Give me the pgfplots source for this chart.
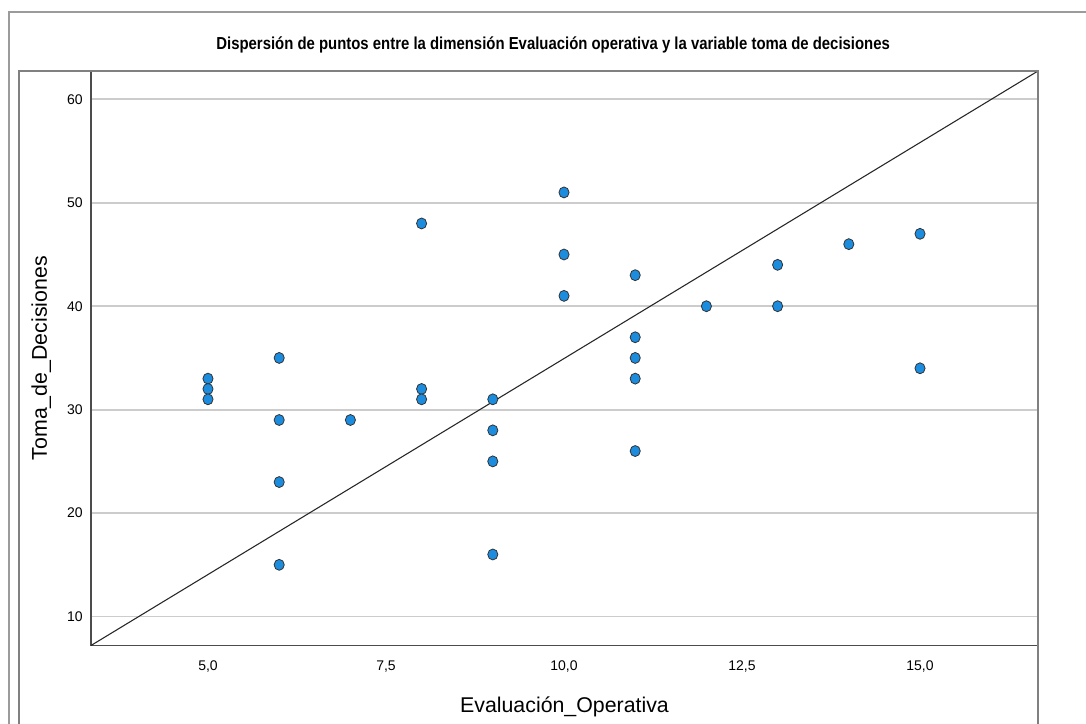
\documentclass[border=0pt]{standalone}
\usepackage{pgfplots}
\pgfplotsset{compat=1.18}
\usepackage{fontspec}
\setmainfont{Liberation Sans}
\definecolor{ptblue}{RGB}{28,140,222}
\definecolor{framegray}{RGB}{128,128,128}
\definecolor{outergray}{RGB}{155,155,155}
\begin{document}
\begin{tikzpicture}[x=0.75pt,y=0.75pt]
\useasboundingbox (0,0) rectangle (1086,724);
\fill[white] (0,0) rectangle (1086,724);
\draw[outergray, line width=1.2pt] (9,-5) -- (9,712) -- (1090,712);
\begin{axis}[
  at={(68.25pt,58.875pt)}, anchor=south west,
  scale only axis, width=710.25pt, height=430.875pt,
  xmin=3.357, xmax=16.657, ymin=7.2, ymax=62.74,
  xtick={5,7.5,10,12.5,15},
  xticklabels={{5,0},{7,5},{10,0},{12,5},{15,0}},
  ytick={10,20,30,40,50,60},
  major tick length=0pt,
  ymajorgrids, grid style={color=black!20, line width=1.3pt},
  axis line style={draw=black!70, line width=0.8pt},
  tick label style={font=\fontsize{10.5}{12}\selectfont},
  /pgf/number format/assume math mode=true,
  yticklabel style={inner sep=0pt, xshift=-6pt},
  xticklabel style={inner sep=0pt, yshift=-11pt},
  xlabel={Evaluación\_Operativa}, ylabel={Toma\_de\_Decisiones},
  label style={font=\fontsize{16}{19}\selectfont},
  xlabel style={at={(axis description cs:0.5,-0.1175)}, anchor=base},
  ylabel style={at={(axis description cs:-0.0465,0.5)}, anchor=base},
  title={\scalebox{0.86}[1]{Dispersión de puntos entre la dimensión Evaluación operativa y la variable toma de decisiones}},
  title style={at={(axis description cs:0.488,1.0227)}, anchor=base, font=\bfseries\fontsize{13}{15}\selectfont, inner sep=0pt},
]
\addplot[black!85, line width=0.8pt] coordinates {(3.357,7.2) (16.657,62.74)};
\addplot[only marks, mark=*, mark size=3.8pt, mark options={fill=ptblue, draw=black!80, line width=0.6pt, yscale=1.08}] table {
x y
5 33
5 32
5 31
6 35
6 29
6 23
6 15
7 29
8 48
8 32
8 31
9 31
9 28
9 25
9 16
10 51
10 45
10 41
11 43
11 37
11 35
11 33
11 26
12 40
13 44
13 40
14 46
15 47
15 34
};
\end{axis}
\draw[framegray, line width=1.8pt] (19,-5) -- (19,653) -- (1038,653) -- (1038,-5);
\end{tikzpicture}
\end{document}
